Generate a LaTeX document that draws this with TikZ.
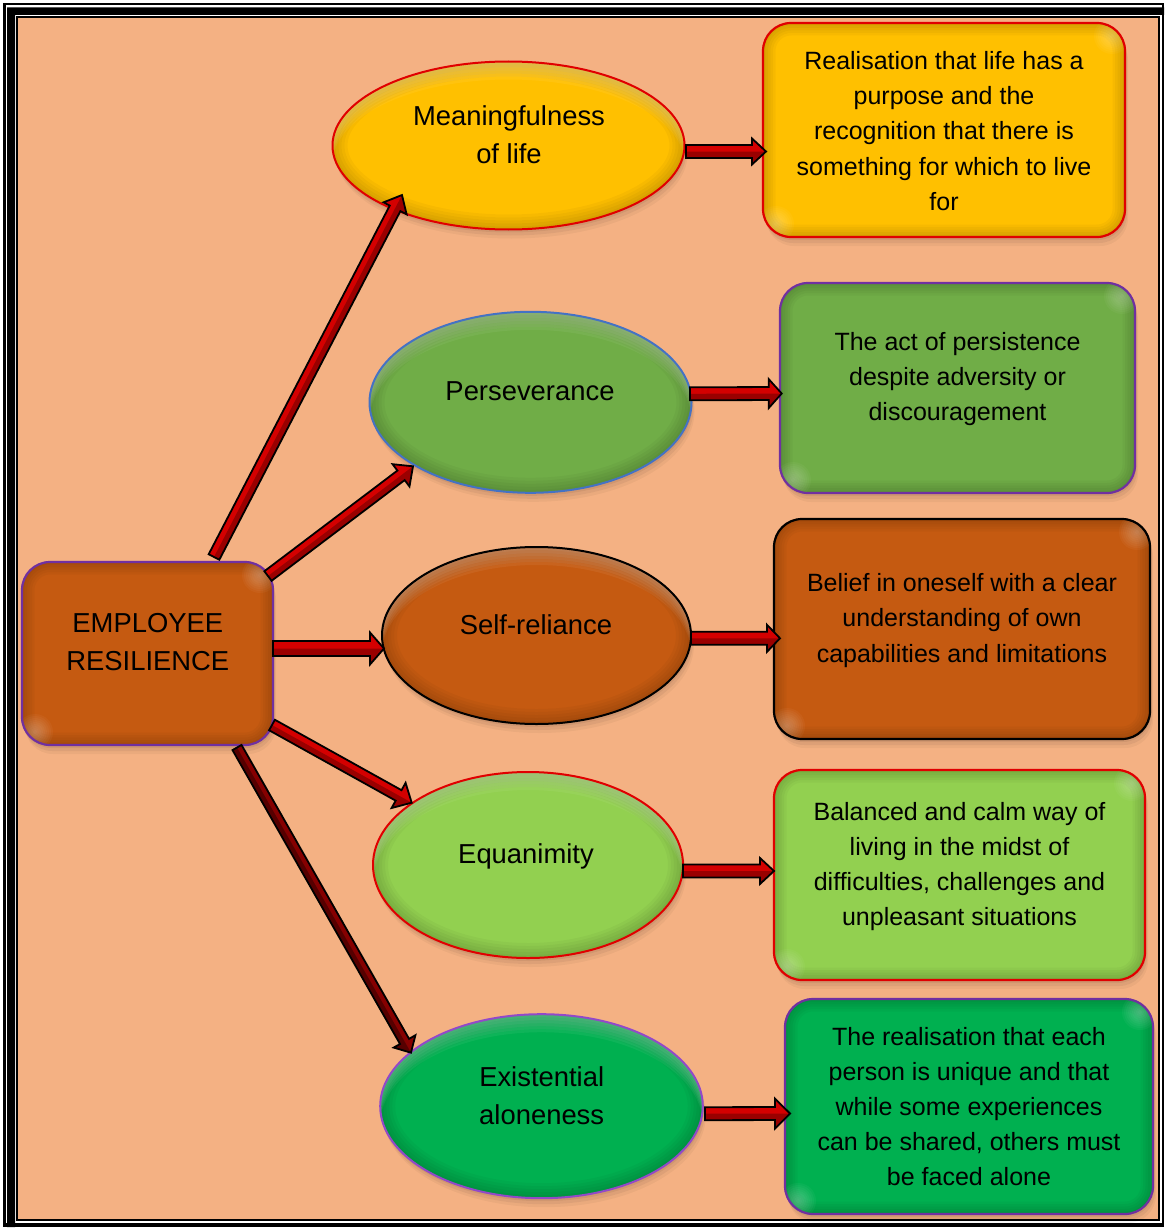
\documentclass[tikz,border=0pt]{standalone}
\usepackage{fontspec}
\setmainfont{Liberation Sans}
\usetikzlibrary{shapes.geometric,calc}

\definecolor{peach}{HTML}{F4B183}
\definecolor{gold}{HTML}{FFC000}
\definecolor{leafgreen}{HTML}{70AD47}
\definecolor{limegreen}{HTML}{92D050}
\definecolor{emerald}{HTML}{00B050}
\definecolor{rust}{HTML}{C55A11}
\definecolor{plum}{HTML}{7030A0}
\definecolor{lilac}{HTML}{9249C8}
\definecolor{edgered}{HTML}{E00000}
\definecolor{edgeblue}{HTML}{4472C4}
\definecolor{arrowred}{HTML}{D40000}
\definecolor{arrowshade}{HTML}{9A0000}
\definecolor{maroon}{HTML}{860000}
\definecolor{maroonshade}{HTML}{560000}

\tikzset{
  ttl/.style={font=\fontsize{27.4}{38}\selectfont, align=center, inner sep=0pt},
  txt/.style={font=\fontsize{25}{35.2}\selectfont, align=center, inner sep=0pt},
  bubble/.style={ellipse, inner sep=0pt, outer sep=0pt},
  card/.style={rectangle, rounded corners=28pt, inner sep=0pt, outer sep=0pt},
  softshadow/.style={
    preaction={fill=black, fill opacity=0.06, transform canvas={xshift=1pt,yshift=-3pt}},
    preaction={fill=black, fill opacity=0.05, transform canvas={xshift=2pt,yshift=-6pt}},
    preaction={fill=black, fill opacity=0.04, transform canvas={xshift=3pt,yshift=-9pt}}},
}

% rim shading, top highlight and outline of an elliptic bubble
\newcommand\bubblefx[4]{%
  \begin{scope}
    \clip (#1.center) ellipse [x radius=#2pt, y radius=#3pt];
    \foreach \k in {1,...,5}
      \draw[black, opacity=0.03, line width=\k*6pt] (#1.center) ellipse [x radius=#2pt, y radius=#3pt];
    \foreach \k in {1,...,6}
      \fill[white, opacity=0.055, even odd rule] (#1.center) ellipse [x radius=#2pt, y radius=#3pt]
        ([yshift=-\k*3pt]#1.center) ellipse [x radius=#2pt, y radius=#3pt];
  \end{scope}
  \draw[#4, line width=2pt] (#1.center) ellipse [x radius=#2pt, y radius=#3pt];
}

% rim shading, corner glints and outline of a rounded card
\newcommand\cardfx[2]{%
  \begin{scope}
    \clip[rounded corners=28pt] (#1.south west) rectangle (#1.north east);
    \foreach \k in {1,...,5}
      \draw[black, opacity=0.03, line width=\k*5pt, rounded corners=28pt] (#1.south west) rectangle (#1.north east);
    \foreach \r in {2,4,...,18} {
      \fill[white, opacity=0.035] ([shift={(-13pt,-13pt)}]#1.north east) circle [radius=\r pt];
      \fill[white, opacity=0.035] ([shift={(13pt,13pt)}]#1.south west) circle [radius=\r pt];
    }
  \end{scope}
  \draw[#2, line width=2.2pt, rounded corners=28pt] (#1.south west) rectangle (#1.north east);
}

% block arrow: from, to, shaft half-width, head half-width, head length, fill, lower-half fill
\newcommand\blockarrow[7]{%
  \path let \p1=(#1), \p2=(#2) in \pgfextra{%
    \pgfmathsetmacro\baang{atan2(\y2-\y1,\x2-\x1)}%
    \pgfmathsetmacro\balen{veclen(\x2-\x1,\y2-\y1)}%
    \xdef\baang{\baang}\xdef\balen{\balen}\xdef\bax{\x1}\xdef\bay{\y1}};
  \begin{scope}[shift={(\bax,\bay)}, rotate=\baang]
    \fill[#6] (0pt,-#3pt) -- ({\balen pt-#5pt},-#3pt) -- ({\balen pt-#5pt},-#4pt) -- (\balen pt,0pt)
      -- ({\balen pt-#5pt},#4pt) -- ({\balen pt-#5pt},#3pt) -- (0pt,#3pt) -- cycle;
    \fill[#7] (0pt,-#3pt) -- ({\balen pt-#5pt},-#3pt) -- ({\balen pt-#5pt},-#4pt) -- (\balen pt,0pt)
      -- (0pt,0pt) -- cycle;
    \draw[black, line width=1.8pt, line join=miter] (0pt,-#3pt) -- ({\balen pt-#5pt},-#3pt) -- ({\balen pt-#5pt},-#4pt) -- (\balen pt,0pt)
      -- ({\balen pt-#5pt},#4pt) -- ({\balen pt-#5pt},#3pt) -- (0pt,#3pt) -- cycle;
  \end{scope}
}

\begin{document}
\begin{tikzpicture}[x=1pt, y=-1pt]
\useasboundingbox (0,0) rectangle (1164,1228);

% double frame
\fill[white] (0,0) rectangle (1164,1228);
\fill[black] (3,3) rectangle (1164,1227);
\fill[white] (5.5,5.5) rectangle (1161.7,1223.3);
\fill[black] (7,7.3) -- (1164,7.3) -- (1164,15) -- (15,15) -- (15,1227) -- (7,1227) -- cycle;
\fill[black] (16.3,16.5) rectangle (1160,1221.3);
\fill[peach] (18,18.2) rectangle (1158,1219.3);

% central box
\node[card, softshadow, fill=rust, minimum width=251pt, minimum height=183pt] (emp) at (147.5,653.5) {};
\cardfx{emp}{plum}
\node[ttl] (empt) at (147.8,642) {EMPLOYEE\\RESILIENCE};

% dimension bubbles
\node[bubble, softshadow, fill=gold, minimum width=352pt, minimum height=168pt] (mean) at (508.5,145.5) {};
\bubblefx{mean}{176}{84}{edgered}
\node[ttl] (meant) at (509,135) {Meaningfulness\\of life};

\node[bubble, softshadow, fill=leafgreen, minimum width=322pt, minimum height=181pt] (pers) at (530.5,402.3) {};
\bubblefx{pers}{161}{90.5}{edgeblue}
\node[ttl] (perst) at (530,391.5) {Perseverance};

\node[bubble, softshadow, fill=rust, minimum width=309pt, minimum height=177pt] (self) at (536.5,635.5) {};
\bubblefx{self}{154.5}{88.5}{black}
\node[ttl] (selft) at (536,624.5) {Self-reliance};

\node[bubble, softshadow, fill=limegreen, minimum width=310pt, minimum height=186pt] (equa) at (528,865) {};
\bubblefx{equa}{155}{93}{edgered}
\node[ttl] (equat) at (526,856) {Equanimity};

\node[bubble, softshadow, fill=emerald, minimum width=322.6pt, minimum height=184pt] (exis) at (541.5,1106.2) {};
\bubblefx{exis}{161.3}{92}{lilac}
\node[ttl] (exist) at (541.7,1096) {Existential\\aloneness};

% description cards
\node[card, softshadow, fill=gold, minimum width=362pt, minimum height=214pt] (b1) at (944,130) {};
\cardfx{b1}{edgered}
\node[txt] (b1t) at (944,131) {Realisation that life has a\\purpose and the\\recognition that there is\\something for which to live\\for};

\node[card, softshadow, fill=leafgreen, minimum width=355pt, minimum height=210pt] (b2) at (957.5,388) {};
\cardfx{b2}{plum}
\node[txt] (b2t) at (957.5,379) {The act of persistence\\despite adversity or\\discouragement};

\node[card, softshadow, fill=rust, minimum width=376pt, minimum height=220pt] (b3) at (962,629) {};
\cardfx{b3}{black}
\node[txt] (b3t) at (962,620.5) {Belief in oneself with a clear\\understanding of own\\capabilities and limitations};

\node[card, softshadow, fill=limegreen, minimum width=371pt, minimum height=210pt] (b4) at (959.5,875) {};
\cardfx{b4}{edgered}
\node[txt] (b4t) at (959.5,866.5) {Balanced and calm way of\\living in the midst of\\difficulties, challenges and\\unpleasant situations};

\node[card, softshadow, fill=emerald, minimum width=368pt, minimum height=215pt] (b5) at (969,1106.5) {};
\cardfx{b5}{plum}
\node[txt] (b5t) at (969,1106.5) {The realisation that each\\person is unique and that\\while some experiences\\can be shared, others must\\be faced alone};

% connectors from the central box
\blockarrow{[shift={(66.5,-96.5)}]emp.center}{[shift={(-106.5,49.5)}]mean.center}{6}{13}{15}{arrowred}{arrowshade}
\blockarrow{[shift={(120.5,-77.5)}]emp.center}{[shift={(-117.5,64)}]pers.center}{6}{14}{15}{arrowred}{arrowshade}
\blockarrow{[shift={(125.5,-5)}]emp.center}{[shift={(-152.5,13)}]self.center}{7.5}{16}{14}{arrowred}{arrowshade}
\blockarrow{[shift={(124.5,71.5)}]emp.center}{[shift={(-116.3,-62.3)}]equa.center}{6}{14.4}{15}{arrowred}{arrowshade}
\blockarrow{[shift={(89.5,94)}]emp.center}{[shift={(-130.5,-53.5)}]exis.center}{5.2}{12.5}{13}{maroon}{maroonshade}

% connectors to the description cards
\blockarrow{[shift={(177.5,6)}]mean.center}{[shift={(-178,21.5)}]b1.center}{6.5}{13}{14}{arrowred}{arrowshade}
\blockarrow{[shift={(159.5,-8.5)}]pers.center}{[shift={(-175.8,5.5)}]b2.center}{6.5}{14.5}{13}{arrowred}{arrowshade}
\blockarrow{[shift={(154.5,2.8)}]self.center}{[shift={(-182,9.3)}]b3.center}{6.5}{13.5}{13}{arrowred}{arrowshade}
\blockarrow{[shift={(155,6)}]equa.center}{[shift={(-185.5,-4)}]b4.center}{6.5}{13}{14}{arrowred}{arrowshade}
\blockarrow{[shift={(163.5,7.5)}]exis.center}{[shift={(-179,7)}]b5.center}{6.5}{15}{15}{arrowred}{arrowshade}
\end{tikzpicture}
\end{document}
